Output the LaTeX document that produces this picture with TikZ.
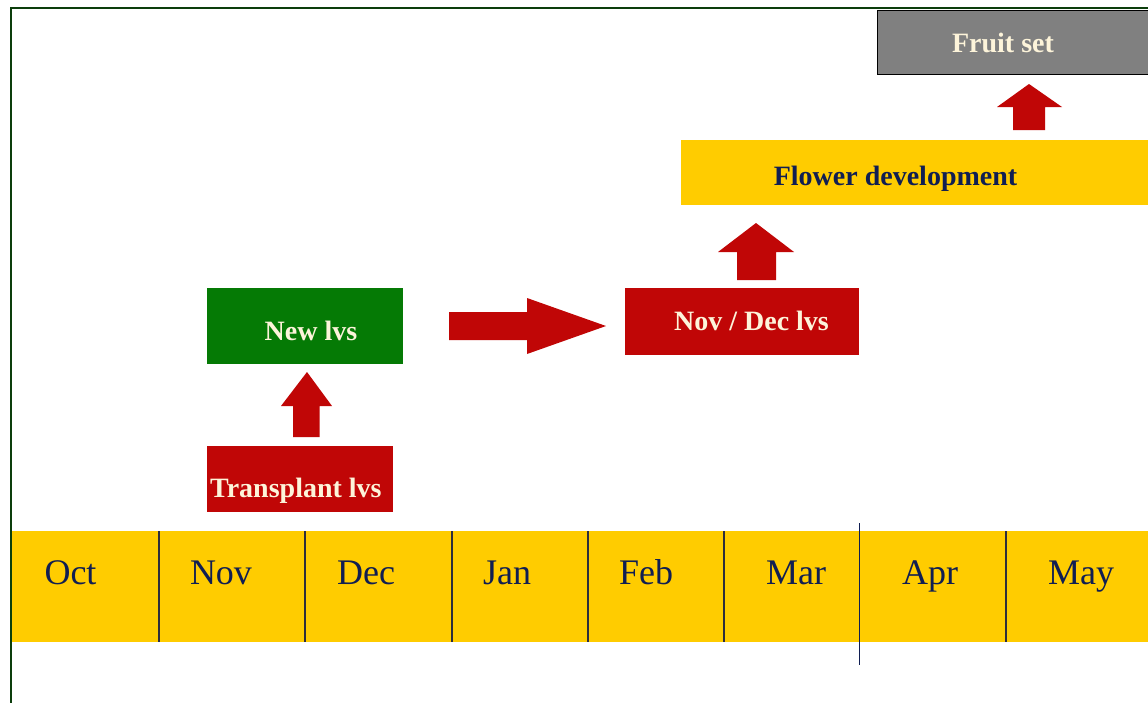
\documentclass[tikz,border=0pt]{standalone}
\usepackage{fontspec}
\setmainfont{Liberation Serif}
\definecolor{myred}{RGB}{192,6,6}
\definecolor{mygreen}{RGB}{5,122,5}
\definecolor{myyellow}{RGB}{255,204,0}
\definecolor{mynavy}{RGB}{16,30,82}
\definecolor{mycream}{RGB}{253,244,218}
\definecolor{mygray}{RGB}{128,128,128}
\definecolor{framegreen}{RGB}{12,62,12}
\definecolor{divgray}{RGB}{45,45,60}
\begin{document}
\begin{tikzpicture}[x=1pt,y=-1pt,
  box/.style={draw=none,inner sep=0pt,anchor=north west},
  boldlabel/.style={inner sep=0pt,anchor=base,font=\fontsize{28}{30}\selectfont\bfseries},
  month/.style={inner sep=0pt,anchor=base,text=mynavy,font=\fontsize{36}{38}\selectfont},
  divider/.style={draw=divgray,line width=1.1pt},
  blockarrow/.style={fill=myred,draw=none}]
\useasboundingbox (0,0) rectangle (1148,702);
\clip (0,0) rectangle (1148,702);
\fill[white] (0,0) rectangle (1148,702);
% frame
\draw[framegreen,line width=1.7pt] (11,705) -- (11,8) -- (1152,8);
% month bar
\node[box,fill=myyellow,minimum width=1140pt,minimum height=111pt] (bar) at (12,531) {};
\foreach \x in {159,305,452,588,724,1006}{
  \draw[divider] (\x,531) -- (\x,642);
}
\draw[draw=mynavy,line width=1.1pt] (859.5,523) -- (859.5,665);
\node[month] (oct) at (70.5,584) {Oct};
\node[month] (nov) at (221,584) {Nov};
\node[month] (dec) at (366,584) {Dec};
\node[month] (jan) at (507,584) {Jan};
\node[month] (feb) at (646,584) {Feb};
\node[month] (mar) at (796,584) {Mar};
\node[month] (apr) at (930,584) {Apr};
\node[month] (may) at (1081,584) {May};
% boxes
\node[box,fill=myred,minimum width=186pt,minimum height=66pt] (trans) at (207,446) {};
\node[boldlabel,text=mycream,anchor=base west] (transt) at (210,497) {Transplant lvs};
\node[box,fill=mygreen,minimum width=196pt,minimum height=76pt] (newlvs) at (207,288) {};
\node[boldlabel,text=mycream] (newt) at (311,340) {New lvs};
\node[box,fill=myred,minimum width=234pt,minimum height=67pt] (novdec) at (625,288) {};
\node[boldlabel,text=mycream] (novdect) at (751.5,330) {Nov / Dec lvs};
\node[box,fill=myyellow,minimum width=475pt,minimum height=65pt] (flower) at (681,140) {};
\node[boldlabel,text=mynavy] (flowert) at (895.5,185) {Flower development};
\node[box,fill=mygray,draw=black,line width=1.3pt,minimum width=285pt,minimum height=64pt] (fruit) at (877,10) {};
\node[boldlabel,text=mycream] (fruitt) at (1003,52) {Fruit set};
% block arrows
\fill[blockarrow] (293,437) -- (293,406) -- (281,406) -- (307,372) -- (332,406) -- (319.5,406) -- (319.5,437) -- cycle;
\fill[blockarrow] (449,312) -- (527,312) -- (527,298) -- (606,326) -- (527,354) -- (527,340) -- (449,340) -- cycle;
\fill[blockarrow] (737,280) -- (737,252) -- (718,252) -- (756,223) -- (794,252) -- (776,252) -- (776,280) -- cycle;
\fill[blockarrow] (1013,130) -- (1013,107) -- (997,107) -- (1029,84) -- (1062,107) -- (1045,107) -- (1045,130) -- cycle;
\end{tikzpicture}
\end{document}
